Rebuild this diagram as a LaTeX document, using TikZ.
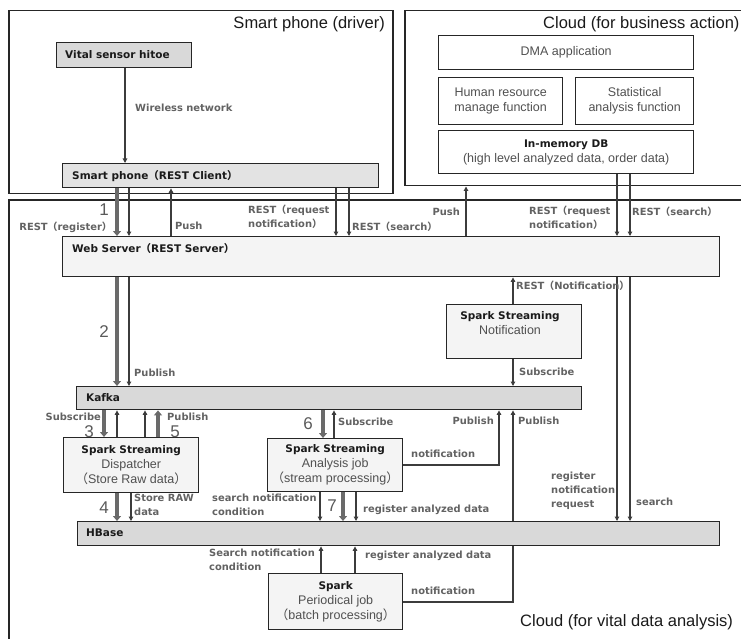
\documentclass[tikz,border=0pt]{standalone}
\usepackage{fontspec}
\setmainfont{Liberation Sans}
\newfontfamily\djv{DejaVu Sans}
\newfontfamily\cjk{Noto Sans CJK SC}
\usetikzlibrary{arrows.meta}
\definecolor{frame}{HTML}{262626}
\definecolor{lblgray}{HTML}{626262}
\definecolor{numgray}{HTML}{5A5A5A}
\definecolor{txtgray}{HTML}{505050}
\definecolor{boldtxt}{HTML}{1A1A1A}
\definecolor{fillA}{HTML}{D9D9D9}
\definecolor{fillB}{HTML}{E3E3E3}
\definecolor{fillC}{HTML}{F4F4F4}
\definecolor{linegray}{HTML}{3C3C3C}
\definecolor{thickgray}{HTML}{6A6A6A}
\newcommand\lp{{\cjk （}}
\newcommand\rp{{\cjk ）}}
\newcommand\bt[1]{{\djv\bfseries\fontsize{10.5}{15}\selectfont\color{boldtxt}#1}}
\begin{document}
\begin{tikzpicture}[x=1pt,y=-1pt,
  cont/.style={draw=frame,line width=1.5pt,anchor=north west,inner sep=0pt},
  box/.style={draw=frame,line width=1.4pt,anchor=north west,inner sep=0pt,align=center,
    text=txtgray,font=\fontsize{12.5}{15}\selectfont},
  lbl/.style={font=\djv\bfseries\fontsize{9.9}{14}\selectfont,text=lblgray,inner sep=0pt,align=left},
  btxt/.style={font=\djv\bfseries\fontsize{10.5}{13}\selectfont,text=boldtxt,inner sep=0pt,anchor=west},
  num/.style={font=\fontsize{17}{17}\selectfont,text=numgray,inner sep=0pt},
  title/.style={font=\fontsize{16.5}{18}\selectfont,text=boldtxt,inner sep=0pt},
  arr/.style={draw=linegray,line width=1.1pt,-{Triangle[length=4.5pt,width=4.5pt]}},
  plain/.style={draw=linegray,line width=1.1pt},
  tarr/.style={draw=thickgray,line width=4pt,-{Triangle[length=5pt,width=8pt]}}]
\useasboundingbox (0,0) rectangle (741,639);
\clip (0,0) rectangle (741,639);
% containers
\node[cont,minimum width=384,minimum height=183] (drv) at (8,10) {};
\node[cont,minimum width=360,minimum height=175] (biz) at (404,10) {};
\node[cont,minimum width=760,minimum height=470] (vit) at (8,199) {};
\node[title,anchor=east] (tdrv) at (385,24) {Smart phone (driver)};
\node[title,anchor=west] (tbiz) at (543,24) {Cloud (for business action)};
\node[title,anchor=west] (tvit) at (520,622) {Cloud (for vital data analysis)};
% smart phone
\node[box,fill=fillA,minimum width=135,minimum height=25] (vital) at (56,42) {};
\node[btxt] (tvital) at (65,55) {Vital sensor hitoe};
\node[box,fill=fillB,minimum width=316,minimum height=24] (phone) at (62,163) {};
\node[btxt] (tphone) at (72,176) {Smart phone\lp REST Client\rp};
% business cloud
\node[box,minimum width=255,minimum height=34] (dma) at (438,35) {DMA application};
\node[box,minimum width=124,minimum height=47] (hr) at (438,77) {Human resource\\manage function};
\node[box,minimum width=118,minimum height=47] (stat) at (575,77) {Statistical\\analysis function};
\node[box,minimum width=255,minimum height=43] (imdb) at (438,130) {\bt{In-memory DB}\\(high level analyzed data, order data)};
% vital cloud
\node[box,fill=fillC,minimum width=657,minimum height=40] (web) at (62,236) {};
\node[btxt] (tweb) at (72,249) {Web Server\lp REST Server\rp};
\node[box,fill=fillC,minimum width=135,minimum height=54] (notif) at (446,304) {};
\node[inner sep=0pt,align=center,text=txtgray,font=\fontsize{12.5}{15}\selectfont] (tnotif) at (510,323) {\bt{Spark Streaming}\\Notification};
\node[box,fill=fillA,minimum width=505,minimum height=23] (kafka) at (76,386) {};
\node[btxt] (tkafka) at (86,398) {Kafka};
\node[box,fill=fillC,minimum width=135,minimum height=55] (disp) at (63,437) {\bt{Spark Streaming}\\Dispatcher\\\lp Store Raw data\rp};
\node[box,fill=fillC,minimum width=135,minimum height=53] (anal) at (267,438) {\bt{Spark Streaming}\\Analysis job\\\lp stream processing\rp};
\node[box,fill=fillA,minimum width=642,minimum height=24] (hbase) at (77,521) {};
\node[btxt] (thbase) at (86,533) {HBase};
\node[box,fill=fillC,minimum width=134,minimum height=56] (per) at (268,573) {\bt{Spark}\\Periodical job\\\lp batch processing\rp};
% connectors
\draw[arr] (vital.south -| 125,0) -- (phone.north -| 125,0);
\draw[tarr] (phone.south -| 117,0) -- (web.north -| 117,0);
\draw[arr] (phone.south -| 129,0) -- (web.north -| 129,0);
\draw[arr] (web.north -| 171,0) -- (phone.south -| 171,0);
\draw[arr] (phone.south -| 336,0) -- (web.north -| 336,0);
\draw[arr] (phone.south -| 349,0) -- (web.north -| 349,0);
\draw[arr] (web.north -| 466,0) -- (biz.south -| 466,0);
\draw[arr] (imdb.south -| 617,0) -- (web.north -| 617,0);
\draw[arr] (imdb.south -| 630,0) -- (web.north -| 630,0);
\draw[arr] (web.south -| 617,0) -- (hbase.north -| 617,0);
\draw[arr] (web.south -| 630,0) -- (hbase.north -| 630,0);
\draw[arr] (notif.north -| 513,0) -- (web.south -| 513,0);
\draw[arr] (notif.south -| 513,0) -- (kafka.north -| 513,0);
\draw[tarr] (web.south -| 117,0) -- (kafka.north -| 117,0);
\draw[arr] (web.south -| 129,0) -- (kafka.north -| 129,0);
\draw[tarr] (kafka.south -| 104,0) -- (disp.north -| 104,0);
\draw[arr] (disp.north -| 117,0) -- (kafka.south -| 117,0);
\draw[arr] (disp.north -| 145,0) -- (kafka.south -| 145,0);
\draw[tarr] (disp.north -| 158,0) -- (kafka.south -| 158,0);
\draw[tarr] (disp.south -| 117,0) -- (hbase.north -| 117,0);
\draw[arr] (disp.south -| 131,0) -- (hbase.north -| 131,0);
\draw[tarr] (kafka.south -| 323,0) -- (anal.north -| 323,0);
\draw[arr] (anal.north -| 334,0) -- (kafka.south -| 334,0);
\draw[arr] (anal.east |- 0,465) -| (kafka.south -| 499,0);
\draw[arr] (anal.south -| 320,0) -- (hbase.north -| 320,0);
\draw[tarr] (anal.south -| 343,0) -- (hbase.north -| 343,0);
\draw[arr] (anal.south -| 356,0) -- (hbase.north -| 356,0);
\draw[arr] (per.north -| 321,0) -- (hbase.south -| 321,0);
\draw[arr] (per.north -| 355,0) -- (hbase.south -| 355,0);
\draw[plain] (per.east |- 0,602) -| (hbase.south -| 513,0);
\draw[arr] (hbase.north -| 513,0) -- (kafka.south -| 513,0);
% labels
\node[lbl,anchor=west] (l1) at (135,108) {Wireless network};
\node[num] (n1) at (104,210) {1};
\node[lbl,anchor=east] (l2) at (112,227) {REST\lp register\rp};
\node[lbl,anchor=west] (l3) at (175,226) {Push};
\node[lbl,anchor=west] (l4) at (248,217) {REST\lp request\\notification\rp};
\node[lbl,anchor=west] (l5) at (352,227) {REST\lp search\rp};
\node[lbl,anchor=east] (l6) at (460,212) {Push};
\node[lbl,anchor=west] (l7) at (529,218) {REST\lp request\\notification\rp};
\node[lbl,anchor=west] (l8) at (632,212) {REST\lp search\rp};
\node[lbl,anchor=west] (l9) at (516,286) {REST\lp Notification\rp};
\node[num] (n2) at (104,332) {2};
\node[lbl,anchor=west] (l10) at (134,373) {Publish};
\node[lbl,anchor=west] (l11) at (519,372) {Subscribe};
\node[lbl,anchor=east] (l12) at (101,417) {Subscribe};
\node[num] (n3) at (89,432) {3};
\node[lbl,anchor=west] (l13) at (167,417) {Publish};
\node[num] (n5) at (175,432) {5};
\node[num] (n6) at (308,424) {6};
\node[lbl,anchor=west] (l14) at (338,422) {Subscribe};
\node[lbl,anchor=west] (l15) at (411,454) {notification};
\node[lbl,anchor=east] (l16) at (494,421) {Publish};
\node[lbl,anchor=west] (l17) at (518,421) {Publish};
\node[num] (n4) at (104,508) {4};
\node[lbl,anchor=west] (l18) at (134,505) {Store RAW\\data};
\node[lbl,anchor=west] (l19) at (212,505) {search notification\\condition};
\node[num] (n7) at (332,506) {7};
\node[lbl,anchor=west] (l20) at (363,510) {register analyzed data};
\node[lbl,anchor=west] (l21) at (551,491) {register\\notification\\request};
\node[lbl,anchor=west] (l22) at (636,502) {search};
\node[lbl,anchor=west] (l23) at (209,560) {Search notification\\condition};
\node[lbl,anchor=west] (l24) at (365,556) {register analyzed data};
\node[lbl,anchor=west] (l25) at (411,591) {notification};
\end{tikzpicture}
\end{document}
